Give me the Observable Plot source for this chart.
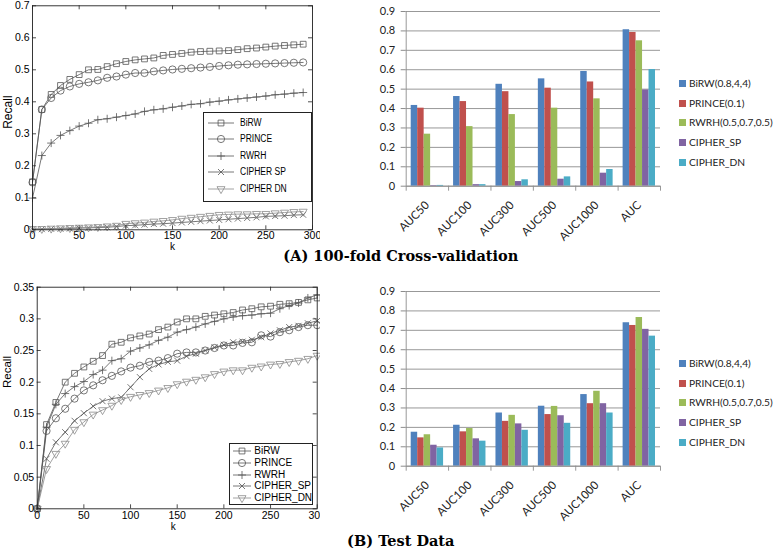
<!DOCTYPE html>
<html>
<head>
<meta charset="utf-8">
<script src="https://cdn.jsdelivr.net/npm/d3@7"></script>
<script src="https://cdn.jsdelivr.net/npm/@observablehq/plot@0.6"></script>
<style>
html,body{margin:0;padding:0;background:#fff;}
#root{position:relative;width:777px;height:560px;overflow:hidden;background:#fff;}
.abs{position:absolute;}
.cap{position:absolute;font-family:"DejaVu Serif",serif;font-weight:bold;font-size:14.5px;line-height:16px;white-space:nowrap;transform:translateX(-50%);color:#000;}
.lg{position:absolute;background:#fff;border:0.8px solid #222;box-sizing:border-box;font-family:"Liberation Sans",Arial,sans-serif;color:#000;}
.lgrow{position:absolute;left:0;white-space:nowrap;}
.blg{position:absolute;font-family:Lato,sans-serif;font-size:10.2px;line-height:12px;color:#222;white-space:nowrap;}
.sw{position:absolute;width:7px;height:7px;}
</style>
</head>
<body>
<div id="root"></div>
<script>
// ---------------- data ----------------
// (A) 100-fold cross-validation: recall vs k
const kA = [0,10,20,30,40,50,60,70,80,90,100,110,120,130,140,150,160,170,180,190,200,210,220,230,240,250,260,270,280,290];
const birwA   = [0.15,0.376,0.423,0.451,0.47,0.485,0.5,0.501,0.51,0.519,0.526,0.531,0.534,0.537,0.545,0.548,0.551,0.555,0.557,0.558,0.559,0.56,0.563,0.566,0.568,0.571,0.574,0.576,0.578,0.58];
const princeA = [0.148,0.376,0.412,0.435,0.448,0.456,0.461,0.467,0.475,0.479,0.485,0.49,0.49,0.495,0.498,0.501,0.503,0.505,0.507,0.509,0.512,0.514,0.516,0.517,0.518,0.519,0.52,0.521,0.522,0.523];
const rwrhA   = [0.099,0.232,0.271,0.295,0.31,0.324,0.333,0.344,0.347,0.352,0.357,0.362,0.37,0.375,0.378,0.383,0.387,0.392,0.394,0.399,0.402,0.406,0.409,0.412,0.415,0.418,0.422,0.424,0.427,0.429];
const spA     = [0.002,0.002,0.003,0.003,0.004,0.005,0.006,0.007,0.008,0.01,0.013,0.014,0.016,0.018,0.019,0.021,0.023,0.025,0.027,0.029,0.031,0.033,0.035,0.037,0.039,0.042,0.043,0.044,0.046,0.047];
const dnA     = [0.003,0.003,0.004,0.005,0.006,0.007,0.008,0.009,0.011,0.013,0.019,0.021,0.023,0.026,0.028,0.031,0.035,0.038,0.041,0.044,0.047,0.048,0.049,0.049,0.05,0.05,0.052,0.054,0.056,0.057];
const namesA  = ["BiRW","PRINCE","RWRH","CIPHER SP","CIPHER DN"];

// (B) test data: recall vs k
const kB = [0,10,20,30,40,50,60,70,80,90,100,110,120,130,140,150,160,170,180,190,200,210,220,230,240,250,260,270,280,290,300];
const birwB   = [0,0.133,0.168,0.2,0.214,0.224,0.233,0.242,0.26,0.263,0.27,0.273,0.276,0.283,0.287,0.295,0.3,0.3,0.304,0.306,0.308,0.31,0.314,0.316,0.319,0.32,0.323,0.324,0.326,0.33,0.333];
const princeB = [0,0.123,0.143,0.158,0.174,0.187,0.195,0.203,0.21,0.217,0.223,0.226,0.232,0.234,0.238,0.245,0.247,0.247,0.25,0.254,0.258,0.258,0.262,0.263,0.274,0.272,0.279,0.282,0.287,0.29,0.29];
const rwrhB   = [0,0.129,0.165,0.182,0.193,0.201,0.212,0.219,0.234,0.237,0.249,0.254,0.259,0.266,0.271,0.279,0.283,0.287,0.292,0.296,0.3,0.303,0.305,0.306,0.308,0.309,0.316,0.321,0.325,0.333,0.338];
const spB     = [0,0.079,0.105,0.121,0.139,0.151,0.162,0.17,0.174,0.176,0.192,0.208,0.221,0.228,0.232,0.234,0.241,0.245,0.25,0.255,0.259,0.263,0.264,0.267,0.271,0.277,0.282,0.287,0.289,0.293,0.297];
const dnB     = [0,0.063,0.087,0.103,0.125,0.137,0.149,0.156,0.163,0.172,0.177,0.18,0.183,0.187,0.191,0.197,0.201,0.204,0.208,0.213,0.217,0.219,0.219,0.223,0.225,0.228,0.229,0.232,0.234,0.237,0.242];
const namesB  = ["BiRW","PRINCE","RWRH","CIPHER_SP","CIPHER_DN"];

const xTicksLine = [0,50,100,150,200,250,300];
const yTicksA = [0,0.1,0.2,0.3,0.4,0.5,0.6,0.7];
const yTicksB = [0,0.05,0.1,0.15,0.2,0.25,0.3,0.35];

// bar charts
const cats = ["AUC50","AUC100","AUC300","AUC500","AUC1000","AUC"];
const barNames = ["BiRW(0.8,4,4)","PRINCE(0.1)","RWRH(0.5,0.7,0.5)","CIPHER_SP","CIPHER_DN"];
const barBirwA   = [0.416,0.462,0.525,0.553,0.591,0.806];
const barPrinceA = [0.402,0.436,0.487,0.505,0.537,0.792];
const barRwrhA   = [0.268,0.307,0.369,0.402,0.45,0.749];
const barSpA     = [0.003,0.008,0.024,0.036,0.067,0.496];
const barDnA     = [0.004,0.008,0.033,0.048,0.086,0.601];
const barBirwB   = [0.175,0.211,0.274,0.309,0.369,0.739];
const barPrinceB = [0.146,0.177,0.231,0.266,0.322,0.725];
const barRwrhB   = [0.162,0.194,0.262,0.308,0.386,0.766];
const barSpB     = [0.108,0.141,0.218,0.26,0.322,0.705];
const barDnB     = [0.094,0.129,0.185,0.221,0.274,0.67];
const barTicks = [0,0.1,0.2,0.3,0.4,0.5,0.6,0.7,0.8,0.9];

// ---------------- styles ----------------
const barColors = ["#4F81BD","#C0504D","#9BBB59","#8064A2","#4BACC6"];
const lineColors = ["#555","#555","#555","#555","#8a8a8a"];
const squareM = {draw(c){const s=2.9;c.moveTo(-s,-s);c.lineTo(s,-s);c.lineTo(s,s);c.lineTo(-s,s);c.closePath();}};
const circleM = {draw(c){const r=3.6;c.moveTo(r,0);c.arc(0,0,r,0,2*Math.PI);}};
const plusM   = {draw(c){const s=4;c.moveTo(-s,0);c.lineTo(s,0);c.moveTo(0,-s);c.lineTo(0,s);}};
const timesM  = {draw(c){const s=3;c.moveTo(-s,-s);c.lineTo(s,s);c.moveTo(-s,s);c.lineTo(s,-s);}};
const triDownM= {draw(c){const s=4;c.moveTo(-s,-0.58*s);c.lineTo(s,-0.58*s);c.lineTo(0,1.15*s);c.closePath();}};
const markers = [squareM,circleM,plusM,timesM,triDownM];

const root = document.getElementById("root");
function place(node, left, top, w, h) {
  const d = document.createElement("div");
  d.className = "abs";
  d.style.left = left + "px"; d.style.top = top + "px";
  if (w) d.style.width = w + "px";
  if (h) d.style.height = h + "px";
  d.appendChild(node);
  root.appendChild(d);
  return d;
}

function lineChart(o) {
  const innerW = o.W - o.mL - o.mR, innerH = o.H - o.mT - o.mB;
  const marks = [];
  o.values.forEach((vals, i) => {
    const rows = o.k.map((kk, j) => ({k: kk, v: vals[j]}));
    marks.push(Plot.line(rows, {x: "k", y: "v", stroke: lineColors[i], strokeWidth: 0.8}));
    marks.push(Plot.dot(rows, {x: "k", y: "v", symbol: markers[i], r: 3, fill: "none", stroke: lineColors[i], strokeWidth: 0.8}));
  });
  marks.push(
    Plot.frame({stroke: "#222", strokeWidth: 0.9}),
    Plot.ruleX(o.xTicks, {x: d => d, insetTop: innerH - 4, stroke: "#222", strokeWidth: 0.8}),
    Plot.ruleX(o.xTicks, {x: d => d, insetBottom: innerH - 4, stroke: "#222", strokeWidth: 0.8}),
    Plot.ruleY(o.yTicks, {y: d => d, insetRight: innerW - 4, stroke: "#222", strokeWidth: 0.8}),
    Plot.ruleY(o.yTicks, {y: d => d, insetLeft: innerW - 4, stroke: "#222", strokeWidth: 0.8}),
    Plot.axisX(o.xTicks, {tickSize: 0, tickPadding: o.xPad, tickFormat: d => String(d), label: null}),
    Plot.axisY(o.yTicks, {tickSize: 0, tickPadding: 3, tickFormat: d => String(d), label: null}),
    Plot.text(["k"], {text: d => d, frameAnchor: "bottom", dy: o.kDy, dx: o.kDx, fontSize: 10}),
    Plot.text(["Recall"], {text: d => d, frameAnchor: "left", rotate: -90, dx: o.rDx, dy: o.rDy, fontSize: o.rFs})
  );
  return Plot.plot({
    width: o.W, height: o.H,
    marginLeft: o.mL, marginRight: o.mR, marginTop: o.mT, marginBottom: o.mB,
    x: {domain: [0, 300]}, y: {domain: o.yDomain},
    style: {fontFamily: "'Liberation Sans', Arial, sans-serif", fontSize: o.fs + "px", background: "none", color: "#000"},
    marks
  });
}

function lineLegend(o) {
  const box = document.createElement("div");
  box.className = "lg";
  Object.assign(box.style, {left: o.left + "px", top: o.top + "px", width: o.w + "px", height: o.h + "px"});
  o.names.forEach((name, i) => {
    const cy = o.row0 + i * o.gap;
    const g = document.createElementNS("http://www.w3.org/2000/svg", "svg");
    g.setAttribute("width", o.gw); g.setAttribute("height", 14);
    g.style.position = "absolute"; g.style.left = o.gx + "px"; g.style.top = (cy - 7) + "px"; g.style.overflow = "visible";
    const col = lineColors[i];
    g.innerHTML = `<line x1="1" x2="${o.gw - 1}" y1="7" y2="7" stroke="${col}" stroke-width="0.8"/>` +
      `<path d="${d3.symbol(markers[i])()}" transform="translate(${o.gw / 2},7)" fill="none" stroke="${col}" stroke-width="0.8"/>`;
    box.appendChild(g);
    const t = document.createElement("div");
    t.className = "lgrow";
    t.textContent = name;
    Object.assign(t.style, {left: o.tx + "px", top: (cy - o.fs * 0.6) + "px", fontSize: o.fs + "px", lineHeight: (o.fs * 1.2) + "px",
      transform: `scaleX(${o.sx})`, transformOrigin: "left center"});
    box.appendChild(t);
  });
  root.appendChild(box);
}

function barChart(series) {
  const W = 457, H = 250, mL = 85.7, mR = 117, mT = 11, mB = 64.3;
  const innerW = W - mL - mR, innerH = H - mT - mB;
  const bw = innerW / cats.length, pad = 5, w = (bw - 2 * pad) / series.length;
  const gray = "#8c8c8c";
  const marks = [Plot.gridY(barTicks, {stroke: gray, strokeOpacity: 1, strokeWidth: 0.9})];
  series.forEach((vals, i) => {
    const rows = cats.map((c, j) => ({cat: c, v: vals[j]}));
    marks.push(Plot.barY(rows, {x: "cat", y: "v", fill: barColors[i], insetLeft: pad + i * w, insetRight: bw - pad - (i + 1) * w}));
  });
  marks.push(
    Plot.ruleY([0], {stroke: gray, strokeWidth: 0.9}),
    Plot.ruleX([cats[0]], {x: d => d, dx: -bw / 2, stroke: gray, strokeWidth: 0.9}),
    Plot.ruleX(cats, {x: d => d, dx: -bw / 2, insetTop: innerH, insetBottom: -5, stroke: gray, strokeWidth: 0.9}),
    Plot.ruleX([cats[cats.length - 1]], {x: d => d, dx: bw / 2, insetTop: innerH, insetBottom: -5, stroke: gray, strokeWidth: 0.9}),
    Plot.axisY(barTicks, {tickSize: 5, tickPadding: 6, stroke: gray, tickFormat: d => String(d), label: null}),
    Plot.axisX(cats, {tickSize: 0, tickPadding: 17, tickRotate: -45, label: null, fontSize: 11.5})
  );
  return Plot.plot({
    width: W, height: H, marginLeft: mL, marginRight: mR, marginTop: mT, marginBottom: mB,
    x: {type: "band", domain: cats, padding: 0, round: false},
    y: {domain: [0, 0.9]},
    style: {fontFamily: "Lato, 'Open Sans', sans-serif", fontSize: "11px", background: "none", color: "#222"},
    marks
  });
}

function barLegend(top) {
  barNames.forEach((name, i) => {
    const cy = top + i * 19.8;
    const s = document.createElement("div");
    s.className = "sw";
    Object.assign(s.style, {left: "679px", top: (cy - 3.5) + "px", background: barColors[i]});
    root.appendChild(s);
    const t = document.createElement("div");
    t.className = "blg";
    t.textContent = name;
    Object.assign(t.style, {left: "689px", top: (cy - 6.5) + "px"});
    root.appendChild(t);
  });
}

// ---------------- panels ----------------
place(lineChart({
  k: kA, values: [birwA, princeA, rwrhA, spA, dnA], xTicks: xTicksLine, yTicks: yTicksA, yDomain: [0, 0.7],
  W: 320, H: 258, mL: 32, mR: 8, mT: 5.3, mB: 28.7, xPad: 1.5, kDy: 20.5, kDx: 0, rDx: -24, rDy: 11, rFs: 12, fs: 10.5
}), 0, 0, 320, 258);

place(lineChart({
  k: kB, values: [birwB, princeB, rwrhB, spB, dnB], xTicks: xTicksLine, yTicks: yTicksB, yDomain: [0, 0.35],
  W: 320, H: 270, mL: 36.7, mR: 3.3, mT: 16.7, mB: 31.7, xPad: 2.5, kDy: 21.5, kDx: -4, rDx: -29.7, rDy: -10, rFs: 11.5, fs: 10.5
}), 0, 270, 320, 270);

place(barChart([barBirwA, barPrinceA, barRwrhA, barSpA, barDnA]), 320, 0, 457, 250);
place(barChart([barBirwB, barPrinceB, barRwrhB, barSpB, barDnB]), 320, 280, 457, 250);

lineLegend({names: namesA, left: 203.3, top: 111.7, w: 109, h: 90, row0: 10, gap: 16.6, gx: 3, gw: 28, tx: 36, fs: 10, sx: 0.85});
lineLegend({names: namesB, left: 229.3, top: 442.7, w: 84, h: 62.3, row0: 7.3, gap: 11.8, gx: 2, gw: 20, tx: 24, fs: 10, sx: 1});

barLegend(83.3);
barLegend(363.3);

// captions
[["(A) 100-fold Cross-validation", 247.5], ["(B) Test Data", 533]].forEach(([txt, top]) => {
  const c = document.createElement("div");
  c.className = "cap";
  c.textContent = txt;
  c.style.left = "400.8px"; c.style.top = top + "px";
  root.appendChild(c);
});
</script>
</body>
</html>
